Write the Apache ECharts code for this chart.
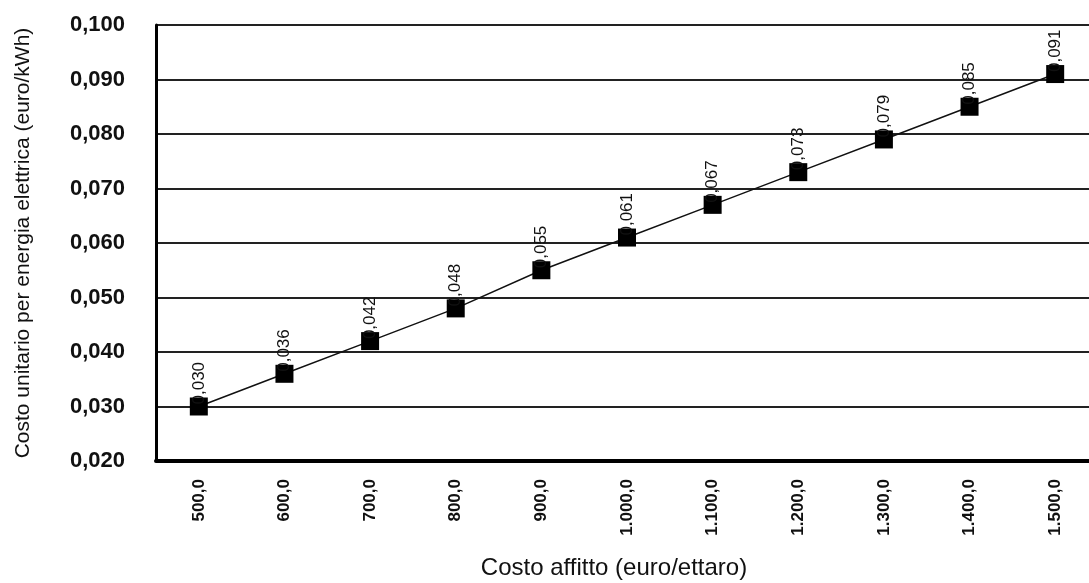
<!DOCTYPE html>
<html>
<head>
<meta charset="utf-8">
<style>
  html, body { margin: 0; padding: 0; background: #fff; }
  #chart { width: 1089px; height: 583px; }
</style>
<script src="https://cdn.jsdelivr.net/npm/echarts@6/dist/echarts.min.js"></script>
</head>
<body>
<div id="chart"></div>
<script>
// Costo affitto del terreno (euro/ettaro)
const categories = ['500,0', '600,0', '700,0', '800,0', '900,0', '1.000,0', '1.100,0', '1.200,0', '1.300,0', '1.400,0', '1.500,0'];
// Costo unitario dell'energia elettrica (euro/kWh)
const costValues = [0.030, 0.036, 0.042, 0.048, 0.055, 0.061, 0.067, 0.073, 0.079, 0.085, 0.091];

const yMin = 0.02, yMax = 0.10, yStep = 0.01;

const fmt = (v, d) => v.toFixed(d).replace('.', ',');

const chart = echarts.init(document.getElementById('chart'), null, { renderer: 'canvas' });
const FONT = 'Liberation Sans, Arial, sans-serif';

chart.setOption({
  animation: false,
  backgroundColor: '#fff',
  grid: { left: 156, top: 25, width: 942, height: 436, containLabel: false, outerBoundsMode: 'none' },
  xAxis: {
    type: 'category',
    data: categories,
    boundaryGap: true,
    name: 'Costo affitto (euro/ettaro)',
    nameLocation: 'middle',
    nameGap: 95,
    nameTextStyle: { fontFamily: FONT, fontSize: 24, color: '#111', padding: [0, 26, 0, 0] },
    axisLine: { show: true, lineStyle: { color: '#000', width: 4 } },
    axisTick: { show: false },
    axisLabel: {
      rotate: 90, margin: 18, interval: 0,
      fontFamily: FONT, fontSize: 17, fontWeight: 'bold', color: '#111'
    },
    splitLine: { show: false }
  },
  yAxis: {
    type: 'value',
    min: yMin, max: yMax, interval: yStep,
    name: 'Costo unitario per energia elettrica (euro/kWh)',
    nameLocation: 'middle',
    nameGap: 122,
    nameRotate: 90,
    nameTextStyle: { fontFamily: FONT, fontSize: 21, color: '#111' },
    axisLine: { show: true, lineStyle: { color: '#000', width: 3 } },
    axisTick: { show: false },
    axisLabel: {
      margin: 31,
      fontFamily: FONT, fontSize: 22, fontWeight: 'bold', color: '#111',
      formatter: v => fmt(v, 3)
    },
    splitLine: { show: true, lineStyle: { color: '#222', width: 2 } }
  },
  series: [{
    type: 'line',
    data: costValues,
    symbol: 'rect',
    symbolSize: 18,
    lineStyle: { color: '#111', width: 1.5 },
    itemStyle: { color: '#000' },
    label: {
      show: true,
      position: 'top',
      distance: -7,
      rotate: 90,
      align: 'left',
      verticalAlign: 'middle',
      fontFamily: FONT, fontSize: 17, color: '#111',
      formatter: p => fmt(p.value, 3)
    },
    z: 5
  }]
});
</script>
</body>
</html>
